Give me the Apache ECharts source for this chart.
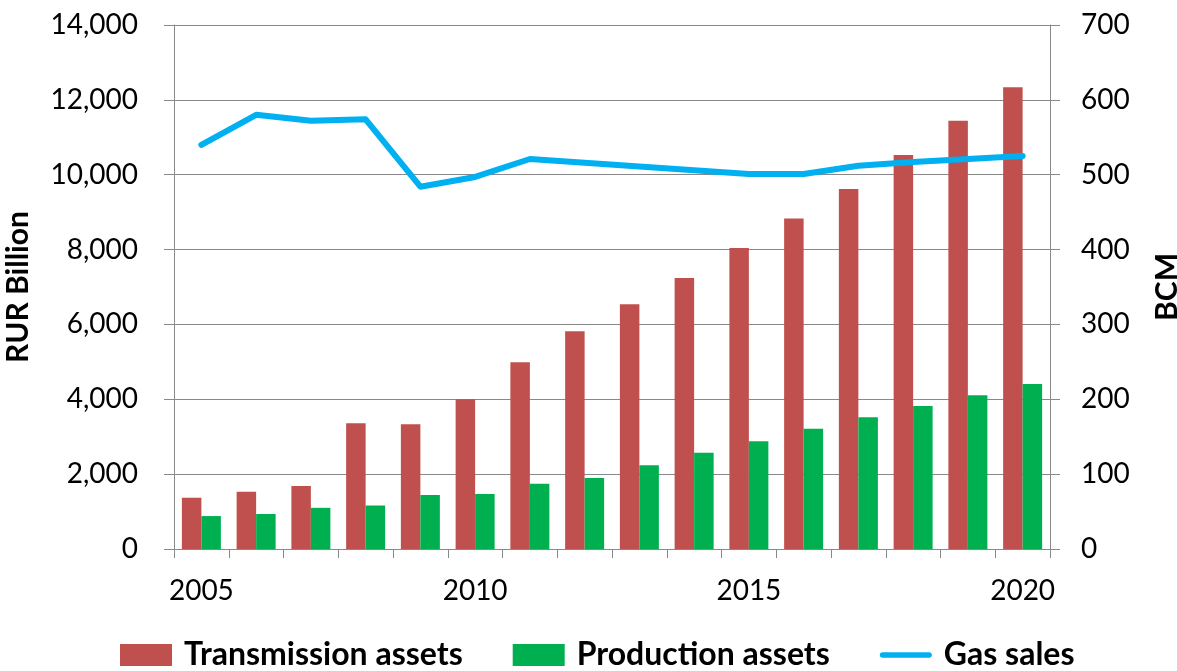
<!DOCTYPE html>
<html>
<head>
<meta charset="utf-8">
<script src="https://cdn.jsdelivr.net/npm/echarts@6/dist/echarts.min.js"></script>
<style>
html,body{margin:0;padding:0;background:#fff;}
#chart{width:1177px;height:671px;}
</style>
</head>
<body>
<div id="chart"></div>
<script>
var years = ['2005','2006','2007','2008','2009','2010','2011','2012','2013','2014','2015','2016','2017','2018','2019','2020'];
var transmissionAssets = [1370, 1530, 1680, 3360, 3330, 4000, 4990, 5820, 6540, 7240, 8040, 8830, 9620, 10530, 11440, 12340];
var productionAssets = [880, 935, 1100, 1160, 1440, 1470, 1740, 1900, 2240, 2570, 2880, 3210, 3520, 3820, 4110, 4410];
var gasSales = [540, 580, 572, 574, 484, 497, 521, 516, 511, 506, 501, 501, 512, 517, 521, 525];

var FONT = 'Lato';
var GRAY = '#898989';
var chart = echarts.init(document.getElementById('chart'), null, {renderer: 'canvas'});
chart.setOption({
  animation: false,
  backgroundColor: '#ffffff',
  textStyle: {fontFamily: FONT},
  grid: {left: 174, right: 127, top: 25, bottom: 122, containLabel: false, outerBoundsMode: 'none'},
  legend: {
    top: 634,
    left: 115,
    itemWidth: 52,
    itemHeight: 22,
    itemGap: 50,
    textStyle: {fontFamily: FONT, fontWeight: 'bold', fontSize: 32, color: '#000', padding: [0, 0, 0, 7]},
    data: [
      {name: 'Transmission assets', icon: 'rect'},
      {name: 'Production assets', icon: 'rect'},
      {name: 'Gas sales', icon: 'path://M3,0 L55,0 A3,3 0 0 1 55,6 L3,6 A3,3 0 0 1 3,0 Z'}
    ]
  },
  xAxis: {
    type: 'category',
    data: years,
    boundaryGap: true,
    axisLine: {show: true, lineStyle: {color: GRAY, width: 1}},
    axisTick: {show: true, interval: 0, length: 9, lineStyle: {color: GRAY}},
    axisLabel: {interval: 4, margin: 28, fontFamily: FONT, fontSize: 28, color: '#000'},
    splitLine: {show: false}
  },
  yAxis: [
    {
      type: 'value', min: 0, max: 14000, interval: 2000,
      name: 'RUR Billion', nameLocation: 'middle', nameRotate: 90, nameGap: 141,
      nameTextStyle: {fontFamily: FONT, fontWeight: 'bold', fontSize: 30, color: '#000'},
      axisLine: {show: true, lineStyle: {color: GRAY, width: 1}},
      axisTick: {show: true, length: 10, lineStyle: {color: GRAY}},
      axisLabel: {margin: 36, fontFamily: FONT, fontSize: 28, color: '#000',
        formatter: function (v) { return v.toLocaleString('en-US'); }},
      splitLine: {show: true, lineStyle: {color: GRAY, width: 1}}
    },
    {
      type: 'value', min: 0, max: 700, interval: 100,
      name: 'BCM', nameLocation: 'middle', nameRotate: 90, nameGap: 102,
      nameTextStyle: {fontFamily: FONT, fontWeight: 'bold', fontSize: 30, color: '#000'},
      axisLine: {show: true, lineStyle: {color: GRAY, width: 1}},
      axisTick: {show: true, length: 10, lineStyle: {color: GRAY}},
      axisLabel: {margin: 31, fontFamily: FONT, fontSize: 28, color: '#000'},
      splitLine: {show: false}
    }
  ],
  series: [
    {
      name: 'Transmission assets', type: 'bar', yAxisIndex: 0,
      data: transmissionAssets, barWidth: 19.5, barGap: '0%',
      itemStyle: {color: '#C0504D'}
    },
    {
      name: 'Production assets', type: 'bar', yAxisIndex: 0,
      data: productionAssets, barWidth: 19.5, barGap: '0%',
      itemStyle: {color: '#00B050'}
    },
    {
      name: 'Gas sales', type: 'line', yAxisIndex: 1,
      data: gasSales, symbol: 'none', smooth: false,
      lineStyle: {color: '#00B0F0', width: 6, cap: 'round', join: 'round'},
      itemStyle: {color: '#00B0F0'}
    }
  ]
});
</script>
</body>
</html>
